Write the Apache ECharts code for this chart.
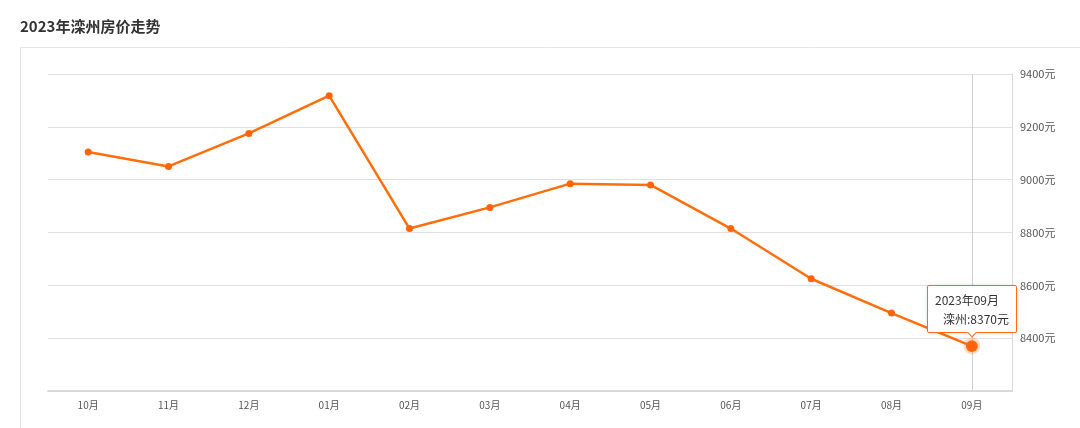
<!DOCTYPE html>
<html>
<head>
<meta charset="utf-8">
<script src="https://cdn.jsdelivr.net/npm/echarts@6/dist/echarts.min.js"></script>
<style>
html,body{margin:0;padding:0;background:#fff;}
#c{width:1080px;height:428px;}
</style>
</head>
<body>
<div id="c"></div>
<script>
const titleText = '2023年滦州房价走势';
const seriesName = '滦州';
const yearLabel = '2023年';
const categories = ['10月','11月','12月','01月','02月','03月','04月','05月','06月','07月','08月','09月'];
const prices = [9105, 9050, 9175, 9318, 8815, 8895, 8985, 8980, 8815, 8625, 8495, 8370];
const yMin = 8200, yMax = 9400, yStep = 200;

const FONT = '"Noto Sans CJK SC", "Microsoft YaHei", sans-serif';
const chart = echarts.init(document.getElementById('c'), null, {renderer: 'canvas'});
chart.setOption({
  animation: false,
  backgroundColor: '#fff',
  textStyle: {fontFamily: FONT},
  title: {
    text: titleText, left: 15, top: 14,
    textStyle: {fontSize: 15, fontWeight: 'bold', color: '#333', fontFamily: FONT}
  },
  graphic: [{
    type: 'rect', silent: true, z: -10,
    shape: {x: 20.5, y: 47.5, width: 1100, height: 500},
    style: {fill: 'none', stroke: '#e6e6e6', lineWidth: 1}
  }],
  grid: {left: 48, right: 68, top: 74, bottom: 37},
  tooltip: {
    trigger: 'item',
    position: 'top',
    alwaysShowContent: true,
    triggerOn: 'none',
    backgroundColor: '#fff',
    borderColor: '#ff6a13',
    borderWidth: 1,
    padding: [4, 7],
    textStyle: {color: '#333', fontSize: 12, fontFamily: FONT},
    extraCssText: 'box-shadow:0 0 3px rgba(0,0,0,0.15);border-radius:2px;line-height:19px;',
    formatter: function (p) {
      return yearLabel + p.name.replace('月','') + '月<br/><span style="padding-left:8px">' + p.seriesName + ':' + p.value + '元</span>';
    }
  },
  xAxis: {
    type: 'category',
    data: categories,
    boundaryGap: true,
    axisLine: {lineStyle: {color: '#dadada', width: 2}},
    axisTick: {alignWithLabel: true, length: 4, lineStyle: {color: '#dadada'}},
    axisLabel: {color: '#555', fontSize: 10, margin: 9, fontFamily: FONT},
    splitLine: {show: false}
  },
  yAxis: {
    type: 'value',
    position: 'right',
    min: yMin, max: yMax, interval: yStep,
    axisLine: {show: true, lineStyle: {color: '#dadada', width: 1}},
    axisTick: {show: false},
    axisLabel: {color: '#555', fontSize: 11, margin: 8, showMinLabel: false,
      formatter: function (v) { return String(v) + '元'; }, fontFamily: FONT},
    splitLine: {lineStyle: {color: '#e0e0e0', width: 1}}
  },
  series: [{
    name: seriesName,
    type: 'line',
    z: 3,
    data: prices,
    symbol: 'circle',
    symbolSize: 7,
    lineStyle: {color: '#ff640a', width: 2.5},
    itemStyle: {color: '#ff640a'},
    emphasis: {
      scale: 1.7,
      itemStyle: {color: '#ff640a', borderColor: 'rgba(255,110,20,0.25)', borderWidth: 5}
    },
    markLine: {
      silent: true,
      z: 1,
      symbol: ['none','none'],
      label: {show: false},
      lineStyle: {color: '#d0d0d0', type: 'solid', width: 1},
      data: [{xAxis: categories[categories.length - 1]}]
    }
  }]
});
const last = prices.length - 1;
chart.dispatchAction({type: 'highlight', seriesIndex: 0, dataIndex: last});
chart.dispatchAction({type: 'showTip', seriesIndex: 0, dataIndex: last});
</script>
</body>
</html>
